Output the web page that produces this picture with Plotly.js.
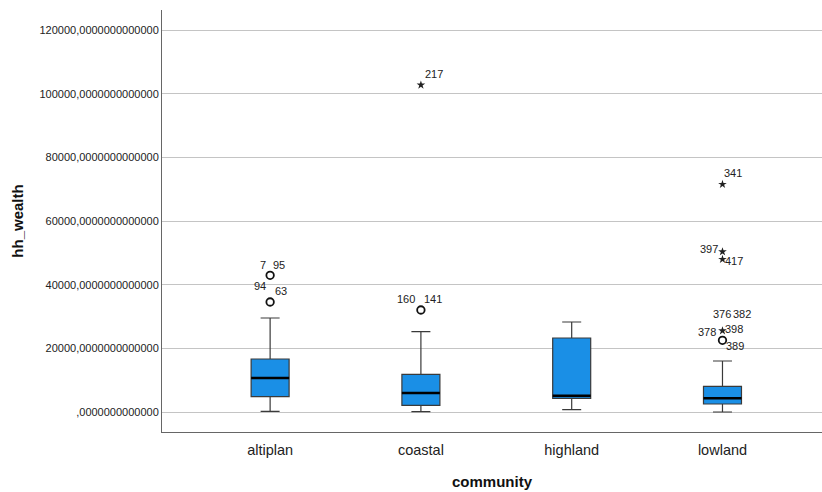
<!DOCTYPE html>
<html>
<head>
<meta charset="utf-8">
<script src="https://cdn.plot.ly/plotly-3.0.1.min.js"></script>
<style>html,body{margin:0;padding:0;background:#fff;}#chart{width:822px;height:492px;}</style>
</head>
<body>
<div id="chart"></div>
<script>
// Categories and five-number summaries
const categories = ["altiplan", "coastal", "highland", "lowland"];
const lowerWhisker = [220, 100, 720, 0];
const q1 = [4810, 2100, 4300, 2510];
const median = [10680, 5970, 5120, 4300];
const q3 = [16650, 11840, 23250, 8070];
const upperWhisker = [29530, 25230, 28270, 16020];

// Outliers: category index, value, kind (mild = circle, extreme = star)
const outlierCat = [0, 0, 1, 1, 3, 3, 3, 3, 3];
const outlierVal = [42940, 34560, 102720, 32040, 71530, 50360, 47970, 25540, 22520];
const outlierKind = ["mild", "mild", "extreme", "mild", "extreme", "extreme", "extreme", "extreme", "mild"];

// Case-number labels: which outlier they belong to, text, and pixel offset
const labelOf = [0, 0, 1, 1, 2, 3, 3, 4, 5, 6, 7, 7, 7, 7, 8];
const labelText = ["7", "95", "94", "63", "217", "160", "141", "341", "397", "417", "376", "382", "378", "398", "389"];
const labelDx = [-7, 9, -10, 11, 13, -15, 12, 11, -13, 12, 0, 20, -15, 12, 13];
const labelDy = [10, 10, 16, 11, 11, 11, 11, 11, 3, -2, 17, 17, -1, 2, -6];

// Y tick labels
const yTickVals = [0, 20000, 40000, 60000, 80000, 100000, 120000];
const yTickText = [",0000000000000", "20000,0000000000000", "40000,0000000000000", "60000,0000000000000",
  "80000,0000000000000", "100000,0000000000000", "120000,0000000000000"];

const boxWidth = 0.252;
const boxColor = "#1a8fe6";
const FONT = "Liberation Sans, Arial, sans-serif";
const traces = [];

categories.forEach((c, i) => {
  traces.push({
    type: "box",
    x: [i],
    q1: [q1[i]], median: [median[i]], q3: [q3[i]],
    lowerfence: [lowerWhisker[i]], upperfence: [upperWhisker[i]],
    width: boxWidth,
    whiskerwidth: 0.5,
    fillcolor: boxColor,
    line: {color: "#3a3a3a", width: 1.2},
    boxpoints: false,
    hoverinfo: "skip",
    showlegend: false
  });
  traces.push({
    type: "scatter", mode: "lines",
    x: [i - boxWidth / 2, i + boxWidth / 2],
    y: [median[i], median[i]],
    line: {color: "#000", width: 2.4},
    hoverinfo: "skip", showlegend: false
  });
});

const mildX = [], mildY = [], extX = [], extY = [];
outlierCat.forEach((c, k) => {
  if (outlierKind[k] === "mild") { mildX.push(c); mildY.push(outlierVal[k]); }
  else { extX.push(c); extY.push(outlierVal[k]); }
});
traces.push({
  type: "scatter", mode: "markers", x: mildX, y: mildY,
  marker: {symbol: "circle-open", size: 7.5, color: "#111", line: {width: 1.8, color: "#111"}},
  hoverinfo: "skip", showlegend: false
});
traces.push({
  type: "scatter", mode: "markers", x: extX, y: extY,
  marker: {symbol: "star", size: 6.5, color: "#222", line: {width: 0}},
  hoverinfo: "skip", showlegend: false
});

const annotations = labelText.map((t, j) => ({
  x: outlierCat[labelOf[j]], y: outlierVal[labelOf[j]],
  xref: "x", yref: "y", text: t, showarrow: false,
  xshift: labelDx[j], yshift: labelDy[j],
  font: {family: FONT, size: 11, color: "#222"}
}));

const layout = {
  width: 822, height: 492,
  margin: {l: 162, r: 0, t: 10, b: 60},
  paper_bgcolor: "#fff", plot_bgcolor: "#fff",
  showlegend: false,
  xaxis: {
    range: [-0.717, 3.66],
    tickvals: [0, 1, 2, 3], ticktext: categories,
    showgrid: false, zeroline: false,
    showline: true, linecolor: "#666", linewidth: 1,
    ticks: "", ticklen: 0, ticklabelstandoff: 5,
    tickfont: {family: FONT, size: 14.5, color: "#222"},
    title: {text: "community", standoff: 19,
      font: {family: FONT, size: 15, color: "#111", weight: "bold"}}
  },
  yaxis: {
    range: [-6283, 126283],
    tickvals: yTickVals, ticktext: yTickText,
    showgrid: true, gridcolor: "#c4c4c4", gridwidth: 1,
    zeroline: false,
    showline: true, linecolor: "#666", linewidth: 1,
    ticks: "",
    tickfont: {family: FONT, size: 11, color: "#222"},
    title: {text: "hh_wealth", standoff: 12,
      font: {family: FONT, size: 15, color: "#111", weight: "bold"}}
  },
  annotations: annotations
};

Plotly.newPlot("chart", traces, layout, {displayModeBar: false, staticPlot: true});
</script>
</body>
</html>
